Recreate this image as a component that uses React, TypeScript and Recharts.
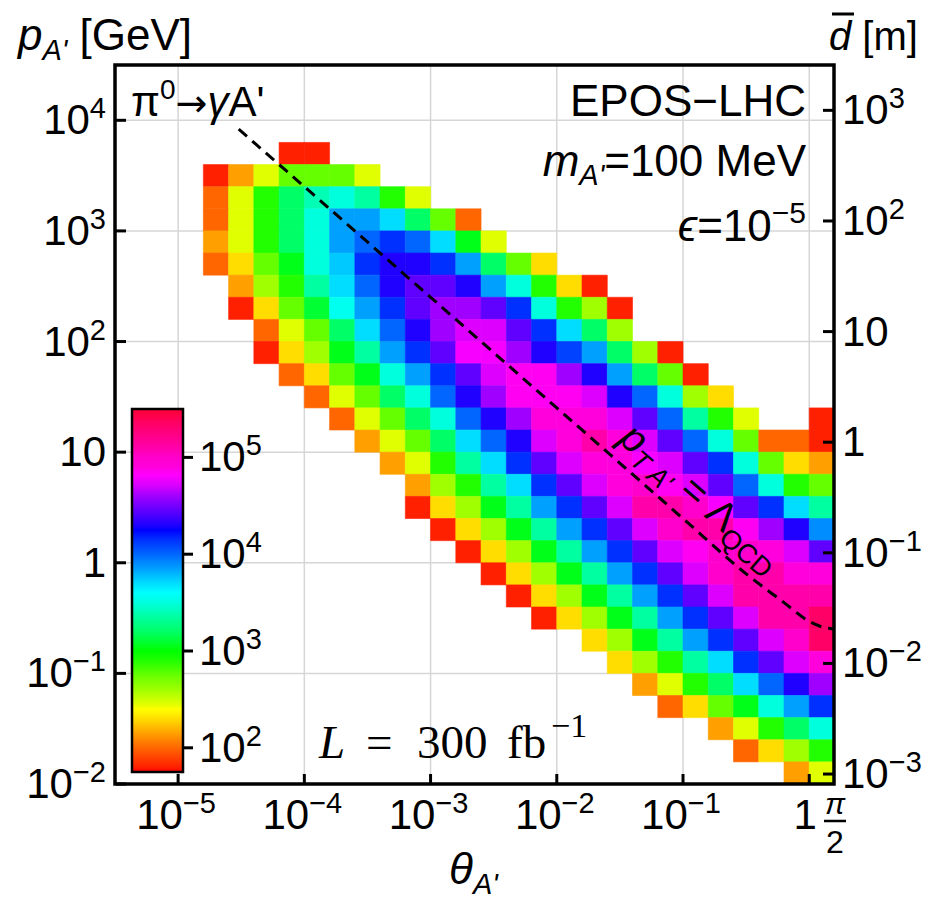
import React from 'react';
import { ComposedChart, XAxis, YAxis, CartesianGrid, ReferenceArea, Line } from 'recharts';

const SANS = '"Liberation Sans", Arial, Helvetica, sans-serif';
const SERIF = '"Liberation Serif", "Times New Roman", serif';

const X_MIN = -5.5;
const X_MAX = Math.log10(Math.PI / 2);
const Y_MIN = -2;
const Y_MAX = 4.5;
const D_SHIFT = 1.09; // log10(p/GeV) - log10(dbar/m)
const BIN = 0.2;

const xTicks = [-5, -4, -3, -2, -1, 0, X_MAX];
const yTicks = [-2, -1, 0, 1, 2, 3, 4];
const dTicks = [-3, -2, -1, 0, 1, 2, 3];
const colorTicks = [2, 3, 4, 5];
const COLOR_MIN = 1.75;
const COLOR_MAX = 5.5;

// lower edge of each momentum bin (log10 p / GeV)
const rowLogP = [3.6, 3.4, 3.2, 3.0, 2.8, 2.6, 2.4, 2.2, 2.0, 1.8, 1.6, 1.4, 1.2, 1.0, 0.8, 0.6, 0.4, 0.2, 0.0, -0.2, -0.4, -0.6, -0.8, -1.0, -1.2, -1.4, -1.6, -1.8, -2.0];
// lower edge (log10 theta) of the first filled bin in each row
const rowStartLogTheta = [-4.2, -4.8, -4.8, -4.8, -4.8, -4.8, -4.6, -4.6, -4.4, -4.4, -4.2, -4.0, -3.8, -3.6, -3.4, -3.2, -3.2, -3.0, -2.8, -2.6, -2.4, -2.2, -1.8, -1.6, -1.4, -1.2, -0.8, -0.6, -0.2];
// log10 of event counts per bin
const rowLogCounts: (number | null)[][] = [
  [1.8, 1.8],
  [1.8, 2.15, 2.45, 2.75, 2.75, 2.75, 2.45],
  [2.0, 2.45, 2.9, 3.2, 3.4, 3.5, 3.35, 2.9, 2.45],
  [2.0, 2.45, 2.9, 3.2, 3.5, 3.85, 3.85, 3.7, 3.2, 2.75, 2.0],
  [2.15, 2.45, 2.9, 3.2, 3.5, 3.85, 4.0, 4.15, 4.0, 3.7, 3.05, 2.45],
  [2.0, 2.3, 2.75, 3.05, 3.5, 3.75, 4.15, 4.3, 4.3, 4.15, 3.85, 3.2, 2.75, 2.3],
  [2.15, 2.6, 2.9, 3.35, 3.7, 4.0, 4.3, 4.45, 4.45, 4.3, 3.85, 3.5, 2.9, 2.3, 1.8],
  [1.8, 2.3, 2.75, 3.1, 3.55, 3.85, 4.15, 4.45, 4.6, 4.6, 4.45, 4.15, 3.5, 2.9, 2.6, 1.8],
  [2.0, 2.45, 2.75, 3.2, 3.7, 4.0, 4.3, 4.6, 4.72, 4.72, 4.45, 4.15, 3.7, 3.2, 2.6],
  [1.8, 2.3, 2.6, 3.05, 3.35, 3.85, 4.15, 4.45, 4.8, 4.8, 4.6, 4.3, 4.1, 3.85, 3.2, 2.6, 1.8],
  [2.0, 2.3, 2.75, 3.05, 3.5, 3.85, 4.15, 4.45, 4.72, 4.85, 4.85, 4.6, 4.3, 3.85, 3.2, 2.75, 1.8],
  [2.0, 2.45, 2.75, 3.2, 3.5, 4.0, 4.3, 4.6, 4.85, 4.85, 4.85, 4.72, 4.3, 4.0, 3.5, 2.6, 2.3],
  [2.0, 2.45, 2.75, 3.2, 3.5, 4.0, 4.3, 4.6, 4.9, 4.9, 4.9, 4.72, 4.45, 4.0, 3.35, 2.9, 2.45, null, null, 1.8],
  [2.15, 2.45, 2.75, 3.2, 3.7, 4.0, 4.3, 4.72, 4.9, 5.1, 4.9, 4.72, 4.45, 4.0, 3.5, 2.75, 2.0, 2.0, 1.8],
  [2.15, 2.45, 2.9, 3.35, 3.7, 4.15, 4.45, 4.72, 4.9, 4.9, 4.8, 4.72, 4.45, 4.15, 3.5, 2.75, 2.3, 2.15],
  [2.15, 2.6, 2.9, 3.35, 3.7, 4.15, 4.45, 4.72, 4.9, 5.0, 4.85, 4.72, 4.45, 4.0, 3.5, 2.9, 2.75],
  [1.8, 2.3, 2.6, 3.05, 3.35, 3.85, 4.15, 4.45, 4.72, 5.1, 5.1, 5.0, 4.8, 4.45, 4.15, 3.7, 3.35],
  [1.8, 2.3, 2.6, 3.05, 3.35, 3.85, 4.15, 4.45, 4.72, 5.0, 5.1, 5.1, 4.85, 4.6, 4.3, 3.9],
  [1.8, 2.3, 2.6, 3.05, 3.35, 3.85, 4.15, 4.45, 4.72, 4.85, 5.0, 5.0, 4.9, 4.72, 4.45],
  [1.8, 2.3, 2.6, 3.05, 3.35, 3.85, 4.15, 4.45, 4.72, 5.0, 5.1, 5.1, 4.9, 4.9],
  [1.8, 2.3, 2.6, 3.05, 3.35, 3.85, 4.15, 4.45, 4.72, 5.1, 5.1, 5.1, 5.1],
  [1.8, 2.3, 2.6, 3.05, 3.35, 3.85, 4.15, 4.45, 4.72, 5.1, 5.1, 5.35],
  [2.3, 2.6, 3.05, 3.35, 3.85, 4.15, 4.45, 4.72, 5.0, 5.35],
  [2.3, 2.6, 2.9, 3.35, 3.7, 4.15, 4.45, 4.72, 4.9],
  [2.15, 2.45, 2.9, 3.2, 3.7, 4.0, 4.3, 4.6],
  [2.0, 2.3, 2.75, 3.05, 3.5, 3.85, 4.15],
  [2.15, 2.45, 2.9, 3.2, 3.5],
  [2.0, 2.3, 2.6, 2.9],
  [2.15, 2.45],
];

// dashed p_T = Lambda_QCD curve
const curveLogTheta = [-4.52, -4.0, -3.0, -2.0, -1.0, -0.5, -0.2, 0.0, 0.1, X_MAX];
const curveLogP = [3.92, 3.4, 2.4, 1.4, 0.4, -0.1, -0.36, -0.53, -0.58, -0.6];

// colour scale (log10 counts -> colour)
const cmapValues = [1.75, 1.8, 2.0, 2.15, 2.3, 2.4, 2.45, 2.6, 2.75, 2.9, 3.0, 3.2, 3.35, 3.5, 3.6, 3.7, 3.85, 4.0, 4.15, 4.25, 4.3, 4.45, 4.6, 4.72, 4.82, 4.9, 5.0, 5.1, 5.35, 5.5];
const cmapColors = ['#ff0000', '#ff2000', '#ff6600', '#ffa000', '#ffdd00', '#ffff00', '#e0ff00', '#a0ff00', '#66ff00', '#22ff00', '#00ff00', '#00ff66', '#00ffa0', '#00ffdd', '#00ffff', '#00ddff', '#00a0ff', '#0066ff', '#0030ff', '#0000ff', '#2000ff', '#6000ff', '#a000ff', '#dd00ff', '#ff00ff', '#ff00dd', '#ff00cc', '#ff00aa', '#ff0066', '#ff0033'];

function hexToRgb(h: string) {
  return [parseInt(h.slice(1, 3), 16), parseInt(h.slice(3, 5), 16), parseInt(h.slice(5, 7), 16)];
}
function colorFor(v: number) {
  if (v <= cmapValues[0]) return cmapColors[0];
  for (let i = 1; i < cmapValues.length; i++) {
    if (v <= cmapValues[i]) {
      const t = (v - cmapValues[i - 1]) / (cmapValues[i] - cmapValues[i - 1]);
      const a = hexToRgb(cmapColors[i - 1]);
      const b = hexToRgb(cmapColors[i]);
      const c = a.map((q, k) => Math.round(q + (b[k] - q) * t));
      return `rgb(${c[0]},${c[1]},${c[2]})`;
    }
  }
  return cmapColors[cmapColors.length - 1];
}

type Cell = { x1: number; x2: number; y1: number; y2: number; v: number };
const cells: Cell[] = [];
rowLogP.forEach((lp, i) => {
  rowLogCounts[i].forEach((v, k) => {
    if (v == null) return;
    const x1 = rowStartLogTheta[i] + k * BIN;
    cells.push({ x1, x2: Math.min(x1 + BIN, X_MAX), y1: lp, y2: lp + BIN, v });
  });
});

const curveData = curveLogTheta.map((t, i) => ({ logTheta: t, logP: curveLogP[i] }));

function powLabel(e: number) {
  if (e === 0) return { base: '1', sup: '' };
  if (e === 1) return { base: '10', sup: '' };
  return { base: '10', sup: e < 0 ? '\u2212' + -e : String(e) };
}

const LABEL_FS = 42;
const SUP_FS = 29;
const SUP_DY = -16;

const LeftTick = (props: any) => {
  const { x, y, payload } = props;
  const l = powLabel(Math.round(payload.value));
  return (
    <g>
      <line x1={x + 10} x2={x + 20} y1={y} y2={y} stroke="#000" strokeWidth={3} />
      <text x={x} y={y + 14} textAnchor="end" fontSize={LABEL_FS} fontFamily={SANS} fill="#000">
        {l.base}
        {l.sup ? <tspan dy={SUP_DY} fontSize={SUP_FS}>{l.sup}</tspan> : null}
      </text>
    </g>
  );
};

const RightTick = (props: any) => {
  const { x, y, payload } = props;
  const l = powLabel(Math.round(payload.value));
  return (
    <g>
      <line x1={x - 9} x2={x - 19} y1={y} y2={y} stroke="#000" strokeWidth={3} />
      <text x={x} y={y + 14} textAnchor="start" fontSize={LABEL_FS} fontFamily={SANS} fill="#000">
        {l.base}
        {l.sup ? <tspan dy={SUP_DY} fontSize={SUP_FS}>{l.sup}</tspan> : null}
      </text>
    </g>
  );
};

const BottomTick = (props: any) => {
  const { x, y, payload } = props;
  const v = payload.value;
  if (Math.abs(v - X_MAX) < 1e-6) {
    return (
      <g fontFamily={SANS} fill="#000">
        <text x={x + 1} y={y + 22} textAnchor="middle" fontSize={30} fontStyle="italic">π</text>
        <line x1={x - 10} x2={x + 12} y1={y + 29} y2={y + 29} stroke="#000" strokeWidth={2.5} />
        <text x={x + 1} y={y + 61} textAnchor="middle" fontSize={32}>2</text>
      </g>
    );
  }
  const l = powLabel(Math.round(v));
  return (
    <g>
      <line x1={x} x2={x} y1={y - 8} y2={y - 18} stroke="#000" strokeWidth={3} />
      <text x={l.sup ? x - 2 : x - 4} y={y + 37} textAnchor="middle" fontSize={LABEL_FS} fontFamily={SANS} fill="#000">
        {l.base}
        {l.sup ? <tspan dy={SUP_DY} fontSize={SUP_FS}>{l.sup}</tspan> : null}
      </text>
    </g>
  );
};

// colour bar geometry
const CB_X = 132;
const CB_Y = 409;
const CB_W = 51;
const CB_H = 363;
const cbY = (v: number) => CB_Y + ((COLOR_MAX - v) / (COLOR_MAX - COLOR_MIN)) * CB_H;

export default function App() {
  return (
    <div style={{ position: 'absolute', left: 0, top: 0, width: 927, height: 904, background: '#fff' }}>
      <ComposedChart width={927} height={904} margin={{ top: 65, right: 8, bottom: 40, left: 15 }}>
        <CartesianGrid stroke="#d6d6d6" strokeWidth={1.5} />
        <XAxis
          type="number"
          dataKey="logTheta"
          domain={[X_MIN, X_MAX]}
          allowDataOverflow
          ticks={xTicks}
          interval={0}
          height={80}
          tickSize={0}
          tickMargin={8}
          axisLine={false}
          tick={<BottomTick />}
        />
        <YAxis
          type="number"
          domain={[Y_MIN, Y_MAX]}
          allowDataOverflow
          ticks={yTicks}
          interval={0}
          width={100}
          tickSize={0}
          tickMargin={9}
          axisLine={false}
          tick={<LeftTick />}
        />
        <YAxis
          yAxisId="d"
          orientation="right"
          type="number"
          domain={[Y_MIN - D_SHIFT, Y_MAX - D_SHIFT]}
          allowDataOverflow
          ticks={dTicks}
          interval={0}
          width={85}
          tickSize={0}
          tickMargin={8}
          axisLine={false}
          tick={<RightTick />}
        />
        {cells.map((c, i) => (
          <ReferenceArea
            key={i}
            x1={c.x1}
            x2={c.x2}
            y1={c.y1}
            y2={c.y2}
            fill={colorFor(c.v)}
            fillOpacity={1}
            stroke={colorFor(c.v)}
            strokeWidth={0.6}
            ifOverflow="visible"
          />
        ))}
        <ReferenceArea
          x1={X_MIN}
          x2={X_MAX}
          y1={Y_MIN}
          y2={Y_MAX}
          fill="none"
          fillOpacity={0}
          stroke="#000"
          strokeWidth={3.5}
          ifOverflow="visible"
        />
        <Line
          data={curveData}
          dataKey="logP"
          type="monotone"
          stroke="#000"
          strokeWidth={3}
          strokeDasharray="11 7"
          dot={false}
          isAnimationActive={false}
        />
      </ComposedChart>

      <svg
        width={927}
        height={904}
        style={{ position: 'absolute', left: 0, top: 0, pointerEvents: 'none' }}
        fontFamily={SANS}
      >
        <defs>
          <linearGradient id="cbar" x1="0" y1="0" x2="0" y2="1">
            {cmapValues
              .map((v, i) => ({ v, c: cmapColors[i] }))
              .reverse()
              .map((s, i) => (
                <stop key={i} offset={(COLOR_MAX - s.v) / (COLOR_MAX - COLOR_MIN)} stopColor={s.c} />
              ))}
          </linearGradient>
        </defs>

        {/* axis titles */}
        <text x={18} y={50} fontSize={44} fill="#000">
          <tspan fontStyle="italic">p</tspan>
          <tspan fontStyle="italic" fontSize={29} dy={10}>A'</tspan>
          <tspan dy={-10}> [GeV]</tspan>
        </text>
        <text x={829} y={50} fontSize={40} fill="#000">
          <tspan fontStyle="italic">d</tspan>
          <tspan> [m]</tspan>
        </text>
        <line x1={832} x2={854} y1={14} y2={14} stroke="#000" strokeWidth={3} />
        <text x={449} y={884} fontSize={44} fill="#000">
          <tspan fontStyle="italic">θ</tspan>
          <tspan fontStyle="italic" fontSize={29} dy={10}>A'</tspan>
        </text>

        {/* annotations */}
        <text x={131} y={116} fontSize={42} fill="#000">
          <tspan>π</tspan>
          <tspan fontSize={28} dy={-17}>0</tspan>
          <tspan dy={17} fontFamily='"DejaVu Sans", sans-serif' fontSize={38}>→</tspan>
          <tspan fontStyle="italic">γ</tspan>
          <tspan>A'</tspan>
        </text>
        <text x={806} y={116} fontSize={44} textAnchor="end" fill="#000">EPOS−LHC</text>
        <text x={806} y={176} fontSize={44} textAnchor="end" fill="#000">
          <tspan fontStyle="italic">m</tspan>
          <tspan fontStyle="italic" fontSize={29} dy={9}>A'</tspan>
          <tspan dy={-9}>=100 MeV</tspan>
        </text>
        <text x={806} y={241} fontSize={44} textAnchor="end" fill="#000">
          <tspan fontStyle="italic">ϵ</tspan>
          <tspan>=10</tspan>
          <tspan fontSize={30} dy={-18}>−5</tspan>
        </text>
        <text
          x={693}
          y={507}
          fontSize={40}
          textAnchor="middle"
          fill="#000"
          transform="rotate(41 693 507)"
        >
          <tspan fontStyle="italic">p</tspan>
          <tspan fontStyle="italic" fontSize={27} dy={9}>T A'</tspan>
          <tspan dy={-9}> = Λ</tspan>
          <tspan fontSize={27} dy={9}>QCD</tspan>
        </text>
        <text y={758} fontSize={47} fontFamily={SERIF} fill="#000">
          <tspan x={319} fontStyle="italic">L</tspan>
          <tspan x={366}>=</tspan>
          <tspan x={417}>300</tspan>
          <tspan x={507}>fb</tspan>
          <tspan x={551} dy={-21} fontSize={34}>−1</tspan>
        </text>

        {/* colour bar */}
        <rect x={CB_X} y={CB_Y} width={CB_W} height={CB_H} fill="url(#cbar)" stroke="#000" strokeWidth={2.5} />
        {colorTicks.map((t) => {
          const yy = cbY(t);
          const l = powLabel(t);
          return (
            <g key={t}>
              <line x1={CB_X + CB_W} x2={CB_X + CB_W + 10} y1={yy} y2={yy} stroke="#000" strokeWidth={3} />
              <text x={CB_X + CB_W + 16} y={yy + 14} fontSize={LABEL_FS} fill="#000">
                {l.base}
                <tspan dy={SUP_DY} fontSize={SUP_FS}>{l.sup}</tspan>
              </text>
            </g>
          );
        })}
      </svg>
    </div>
  );
}
